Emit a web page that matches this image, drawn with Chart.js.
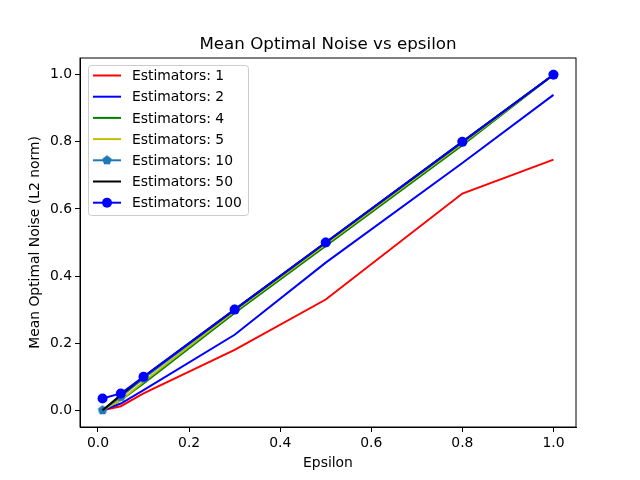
<!DOCTYPE html>
<html>
<head>
<meta charset="UTF-8" />
<title>Mean Optimal Noise vs epsilon</title>
<script src="https://cdn.jsdelivr.net/npm/chart.js"></script>
<style>
  body { margin: 0; background: #fff; }
  #wrap { width: 640px; height: 480px; }
</style>
</head>
<body>
<div id="wrap"><canvas id="myChart" width="640" height="480"></canvas></div>
<script>
  const epsilons = [0.01, 0.05, 0.1, 0.3, 0.5, 0.8, 1.0];
  const seriesNames = ['Estimators: 1', 'Estimators: 2', 'Estimators: 4', 'Estimators: 5',
                       'Estimators: 10', 'Estimators: 50', 'Estimators: 100'];
  const est1 = [0, 0.012, 0.05, 0.18, 0.33, 0.646, 0.747];
  const est2 = [0, 0.02, 0.06, 0.225, 0.44, 0.737, 0.94];
  const est4 = [0, 0.03, 0.08, 0.29, 0.49, 0.79, 1.0];
  const est5 = [0, 0.03, 0.085, 0.295, 0.495, 0.795, 1.0];
  const est10 = [0, 0.04, 0.095, 0.3, 0.5, 0.8, 1.0];
  const est50 = [0, 0.045, 0.1, 0.3, 0.5, 0.8, 1.0];
  const est100 = [0.035, 0.05, 0.1, 0.3, 0.5, 0.8, 1.0];
  const xTicks = [0.0, 0.2, 0.4, 0.6, 0.8, 1.0];
  const yTicks = [0.0, 0.2, 0.4, 0.6, 0.8, 1.0];

  const FONT = 'DejaVu Sans';

  // pentagon marker for Estimators: 10
  function pentagon(r, color) {
    const c = document.createElement('canvas');
    c.width = c.height = r * 2 + 2;
    const g = c.getContext('2d');
    g.beginPath();
    for (let i = 0; i < 5; i++) {
      const a = -Math.PI / 2 + i * 2 * Math.PI / 5;
      const px = r + 1 + r * Math.cos(a), py = r + 1 + r * Math.sin(a);
      i ? g.lineTo(px, py) : g.moveTo(px, py);
    }
    g.closePath();
    g.fillStyle = color;
    g.fill();
    return c;
  }
  const pent = pentagon(5, '#1f77b4');

  const allSeries = [est1, est2, est4, est5, est10, est50, est100];
  const colors = ['#ff0000', '#0000ff', '#008000', '#bfbf00', '#1f77b4', '#000000', '#0000ff'];
  const markers = [null, null, null, null, pent, null, 'circle'];

  const datasets = allSeries.map((vals, i) => ({
    label: seriesNames[i],
    data: vals.map((v, j) => ({ x: epsilons[j], y: v })),
    borderColor: colors[i],
    backgroundColor: colors[i],
    borderWidth: 2,
    pointStyle: markers[i] || 'circle',
    pointRadius: markers[i] ? 5 : 0,
    pointBorderWidth: 0,
    tension: 0,
    order: 6 - i
  }));

  const legendBox = {
    id: 'legendBox',
    afterDraw(chart) {
      const g = chart.ctx;
      const x0 = 88, y0 = 65, w = 160, h = 150;
      g.save();
      g.fillStyle = 'rgba(255,255,255,0.8)';
      g.strokeStyle = '#cccccc';
      g.lineWidth = 1;
      g.beginPath();
      g.roundRect(x0 + 0.5, y0 + 0.5, w, h, 3);
      g.fill();
      g.stroke();
      g.font = '13.9px ' + FONT;
      g.textBaseline = 'middle';
      seriesNames.forEach((name, i) => {
        const y = y0 + 10.5 + i * 21.2;
        g.strokeStyle = colors[i];
        g.lineWidth = 2;
        g.beginPath();
        g.moveTo(93, y);
        g.lineTo(121, y);
        g.stroke();
        if (markers[i] === 'circle') {
          g.fillStyle = colors[i];
          g.beginPath();
          g.arc(107, y, 5, 0, Math.PI * 2);
          g.fill();
        } else if (markers[i]) {
          g.drawImage(markers[i], 107 - 6, y - 6);
        }
        g.fillStyle = '#000';
        g.fillText(name, 132, y + 1);
      });
      // title
      g.font = '16.7px ' + FONT;
      g.textAlign = 'center';
      g.textBaseline = 'alphabetic';
      g.fillText('Mean Optimal Noise vs epsilon', (80 + 576) / 2, 49);
      g.restore();
    }
  };

  const ctx = document.getElementById('myChart').getContext('2d');
  const chart = new Chart(ctx, {
    type: 'line',
    data: { datasets: datasets },
    options: {
      responsive: false,
      animation: false,
      layout: { padding: { top: 58, right: 64, left: 23, bottom: 4 } },
      plugins: { legend: { display: false }, tooltip: { enabled: false } },
      scales: {
        x: {
          type: 'linear',
          min: -0.0395,
          max: 1.0495,
          afterBuildTicks: axis => { axis.ticks = xTicks.map(v => ({ value: v })); },
          afterFit: axis => { axis.height = 49; },
          ticks: {
            color: '#000', font: { family: FONT, size: 13.9 }, padding: 3,
            maxRotation: 0, callback: v => v.toFixed(1)
          },
          grid: { drawOnChartArea: false, tickLength: 5, tickColor: '#000' },
          border: { color: '#000', width: 1 },
          title: { display: true, text: 'Epsilon', color: '#000', font: { family: FONT, size: 13.9 }, padding: { top: 2 } }
        },
        y: {
          type: 'linear',
          min: -0.05,
          max: 1.05,
          afterBuildTicks: axis => { axis.ticks = yTicks.map(v => ({ value: v })); },
          afterFit: axis => { axis.width = 57; },
          ticks: {
            color: '#000', font: { family: FONT, size: 13.9 }, padding: 3,
            callback: v => v.toFixed(1)
          },
          grid: { drawOnChartArea: false, tickLength: 5, tickColor: '#000' },
          border: { color: '#000', width: 1 },
          title: { display: true, text: 'Mean Optimal Noise (L2 norm)', color: '#000', font: { family: FONT, size: 13.9 }, padding: { bottom: 4 } }
        }
      }
    },
    plugins: [legendBox, {
      id: 'frame',
      afterDraw(chart) {
        const a = chart.chartArea, g = chart.ctx;
        g.save();
        g.strokeStyle = '#000';
        g.lineWidth = 1;
        g.strokeRect(a.left, a.top, a.right - a.left, a.bottom - a.top);
        g.restore();
      }
    }]
  });
</script>
</body>
</html>
